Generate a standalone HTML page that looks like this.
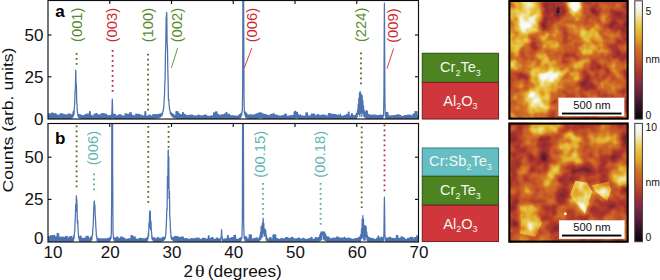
<!DOCTYPE html>
<html><head><meta charset="utf-8"><style>
html,body{margin:0;padding:0;background:#fff;}
body{width:660px;height:280px;overflow:hidden;position:relative;font-family:"Liberation Sans",sans-serif;}
svg{position:absolute;left:0;top:0;}
</style></head><body>
<svg width="660" height="280" viewBox="0 0 660 280" font-family="Liberation Sans, sans-serif">
<defs>
<clipPath id="ca"><rect x="48.0" y="0.5" width="370.5" height="118.5"/></clipPath>
<clipPath id="cb"><rect x="48.0" y="123.5" width="370.5" height="118.5"/></clipPath>
</defs>
<path d="M47.00,118.93 L47.33,113.30 L47.66,118.95 L47.99,113.85 L48.32,118.88 L48.65,113.89 L48.98,118.57 L49.31,113.94 L49.64,118.86 L49.97,113.91 L50.30,118.81 L50.63,113.95 L50.96,118.58 L51.29,113.99 L51.62,118.75 L51.95,113.00 L52.28,118.80 L52.61,113.03 L52.94,118.84 L53.27,113.07 L53.60,118.67 L53.93,114.04 L54.26,118.70 L54.59,114.07 L54.92,118.67 L55.25,113.69 L55.58,118.71 L55.91,113.72 L56.24,118.68 L56.57,114.97 L56.90,118.60 L57.23,115.00 L57.56,118.90 L57.89,115.02 L58.22,118.76 L58.55,115.05 L58.88,118.77 L59.21,115.22 L59.54,118.93 L59.87,115.25 L60.20,119.00 L60.53,113.66 L60.86,118.64 L61.19,113.68 L61.52,118.60 L61.85,114.14 L62.18,118.86 L62.51,114.15 L62.84,118.80 L63.17,114.17 L63.50,118.97 L63.83,114.70 L64.16,118.63 L64.49,114.72 L64.82,118.84 L65.15,114.73 L65.48,118.57 L65.81,115.07 L66.14,118.72 L66.47,115.08 L66.80,118.52 L67.13,115.08 L67.46,118.45 L67.79,114.23 L68.12,118.65 L68.45,114.21 L68.78,118.70 L69.11,114.19 L69.44,118.49 L69.77,114.16 L70.10,118.23 L70.43,114.10 L70.76,118.42 L71.09,114.93 L71.42,118.23 L71.75,114.78 L72.08,117.55 L72.41,114.54 L72.74,117.02 L73.07,112.00 L73.40,115.86 L73.73,110.96 L74.06,114.10 L74.39,107.44 L74.72,103.59 L75.05,90.90 L75.38,89.45 L75.71,70.21 L75.80,71.56 L76.04,84.14 L76.37,84.15 L76.70,101.57 L77.03,104.46 L77.36,112.36 L77.69,112.92 L78.02,116.08 L78.35,114.36 L78.68,117.07 L79.01,114.93 L79.34,117.38 L79.67,114.53 L80.00,118.03 L80.33,114.73 L80.66,118.52 L80.99,115.46 L81.32,118.22 L81.65,115.55 L81.98,118.39 L82.31,115.63 L82.64,118.62 L82.97,115.68 L83.30,118.54 L83.63,115.43 L83.96,118.75 L84.29,115.47 L84.62,118.48 L84.95,115.50 L85.28,118.48 L85.61,114.48 L85.94,118.72 L86.27,114.50 L86.60,118.58 L86.93,114.06 L87.26,118.83 L87.59,114.07 L87.92,118.96 L88.25,114.09 L88.58,118.65 L88.91,114.11 L89.24,118.83 L89.57,111.53 L89.90,118.69 L90.23,111.54 L90.56,118.94 L90.89,115.39 L91.22,118.61 L91.55,115.40 L91.88,118.66 L92.21,115.89 L92.54,118.55 L92.87,115.90 L93.20,118.63 L93.53,115.91 L93.86,118.61 L94.19,114.02 L94.52,118.96 L94.85,114.03 L95.18,119.00 L95.51,114.04 L95.84,118.87 L96.17,113.50 L96.50,118.81 L96.83,113.50 L97.16,119.05 L97.49,114.83 L97.82,118.76 L98.15,114.83 L98.48,118.66 L98.81,114.84 L99.14,118.86 L99.47,114.85 L99.80,118.85 L100.13,114.90 L100.46,118.68 L100.79,114.90 L101.12,118.69 L101.45,113.53 L101.78,118.98 L102.11,113.54 L102.44,118.97 L102.77,113.54 L103.10,119.01 L103.43,113.55 L103.76,118.85 L104.09,113.77 L104.42,118.80 L104.75,113.77 L105.08,118.87 L105.41,114.48 L105.74,118.84 L106.07,114.48 L106.40,118.73 L106.73,114.49 L107.06,118.88 L107.39,115.87 L107.72,118.79 L108.05,115.87 L108.38,118.97 L108.71,115.55 L109.04,118.86 L109.37,115.55 L109.70,118.53 L110.03,115.54 L110.36,118.90 L110.69,115.33 L111.02,118.84 L111.35,115.21 L111.68,117.81 L112.01,109.04 L112.30,99.03 L112.34,100.78 L112.67,111.78 L113.00,118.12 L113.33,114.29 L113.66,118.45 L113.99,114.39 L114.32,118.93 L114.65,114.42 L114.98,118.91 L115.31,114.44 L115.64,118.75 L115.97,115.90 L116.30,118.54 L116.63,115.90 L116.96,118.70 L117.29,115.91 L117.62,118.65 L117.95,115.91 L118.28,118.98 L118.61,114.87 L118.94,118.78 L119.27,114.88 L119.60,118.72 L119.93,114.97 L120.26,118.56 L120.59,114.97 L120.92,118.73 L121.25,114.97 L121.58,118.81 L121.91,116.14 L122.24,118.85 L122.57,116.15 L122.90,118.79 L123.23,116.15 L123.56,118.90 L123.89,115.95 L124.22,118.69 L124.55,115.95 L124.88,118.74 L125.21,113.81 L125.54,118.79 L125.87,113.81 L126.20,118.78 L126.53,113.81 L126.86,118.92 L127.19,114.46 L127.52,118.72 L127.85,114.46 L128.18,118.93 L128.51,114.46 L128.84,119.00 L129.17,114.46 L129.50,118.56 L129.83,112.75 L130.16,118.86 L130.49,112.75 L130.82,118.84 L131.15,112.75 L131.48,119.00 L131.81,115.39 L132.14,118.56 L132.47,115.39 L132.80,118.86 L133.13,115.39 L133.46,118.59 L133.79,116.00 L134.12,118.56 L134.45,116.00 L134.78,118.92 L135.11,116.00 L135.44,118.63 L135.77,114.19 L136.10,118.66 L136.43,114.19 L136.76,118.80 L137.09,114.26 L137.42,118.63 L137.75,114.26 L138.08,118.65 L138.41,114.27 L138.74,118.55 L139.07,114.26 L139.40,118.51 L139.73,114.26 L140.06,118.94 L140.39,115.30 L140.72,118.71 L141.05,115.30 L141.38,118.83 L141.71,115.30 L142.04,118.57 L142.37,115.29 L142.70,118.86 L143.03,116.07 L143.36,118.68 L143.69,116.06 L144.02,118.71 L144.35,116.05 L144.68,118.76 L145.01,111.56 L145.34,118.66 L145.67,111.55 L146.00,118.43 L146.33,116.21 L146.66,118.55 L146.99,116.20 L147.32,118.51 L147.65,116.19 L147.98,118.75 L148.31,116.18 L148.64,118.49 L148.97,115.10 L149.30,118.78 L149.63,115.09 L149.96,118.58 L150.29,115.07 L150.62,118.78 L150.95,116.04 L151.28,118.35 L151.61,116.02 L151.94,118.66 L152.27,115.99 L152.60,118.55 L152.93,114.72 L153.26,118.61 L153.59,114.69 L153.92,118.21 L154.25,114.65 L154.58,118.32 L154.91,114.77 L155.24,118.09 L155.57,114.71 L155.90,118.04 L156.23,114.65 L156.56,117.74 L156.89,114.57 L157.22,117.87 L157.55,114.64 L157.88,117.86 L158.21,114.52 L158.54,117.42 L158.87,114.37 L159.20,117.69 L159.53,114.18 L159.86,117.36 L160.19,114.33 L160.52,116.31 L160.85,113.99 L161.18,116.01 L161.51,113.52 L161.84,115.89 L162.17,112.83 L162.50,114.00 L162.83,111.51 L163.16,111.44 L163.49,108.32 L163.82,107.52 L164.15,100.25 L164.48,96.07 L164.81,83.13 L165.14,77.17 L165.47,53.64 L165.80,43.82 L166.13,17.22 L166.46,22.81 L166.50,12.41 L166.79,13.42 L167.12,42.72 L167.45,47.24 L167.78,67.67 L168.11,81.05 L168.44,100.49 L168.77,99.04 L169.10,105.09 L169.43,107.81 L169.76,110.70 L170.09,111.10 L170.42,113.78 L170.75,112.26 L171.08,114.72 L171.41,112.99 L171.74,115.77 L172.07,113.70 L172.40,116.30 L172.73,114.06 L173.06,117.03 L173.39,114.32 L173.72,117.37 L174.05,115.27 L174.38,117.36 L174.71,115.42 L175.04,117.75 L175.37,115.54 L175.70,117.72 L176.03,111.58 L176.36,118.20 L176.69,111.66 L177.02,118.22 L177.35,111.73 L177.68,118.36 L178.01,111.79 L178.34,118.25 L178.67,113.64 L179.00,118.24 L179.33,113.68 L179.66,118.33 L179.99,114.70 L180.32,118.63 L180.65,114.73 L180.98,118.54 L181.31,114.76 L181.64,118.27 L181.97,114.78 L182.30,118.70 L182.63,112.51 L182.96,118.67 L183.29,112.52 L183.62,118.54 L183.95,114.38 L184.28,118.69 L184.61,114.39 L184.94,118.39 L185.27,114.40 L185.60,118.72 L185.93,115.59 L186.26,118.76 L186.59,115.60 L186.92,118.88 L187.25,115.61 L187.58,118.64 L187.91,115.62 L188.24,118.65 L188.57,115.29 L188.90,118.75 L189.23,115.30 L189.56,118.61 L189.89,115.31 L190.22,118.89 L190.55,115.31 L190.88,118.78 L191.21,115.11 L191.54,118.85 L191.87,115.11 L192.20,118.70 L192.53,115.12 L192.86,118.90 L193.19,115.75 L193.52,118.59 L193.85,115.76 L194.18,118.57 L194.51,115.76 L194.84,118.59 L195.17,115.77 L195.50,118.63 L195.83,116.14 L196.16,118.59 L196.49,116.15 L196.82,118.65 L197.15,116.15 L197.48,118.96 L197.81,115.08 L198.14,118.91 L198.47,115.08 L198.80,118.55 L199.13,115.08 L199.46,118.70 L199.79,115.95 L200.12,119.01 L200.45,115.95 L200.78,118.87 L201.11,115.95 L201.44,118.85 L201.77,115.95 L202.10,118.84 L202.43,115.96 L202.76,118.90 L203.09,115.96 L203.42,118.55 L203.75,115.43 L204.08,118.64 L204.41,115.43 L204.74,118.56 L205.07,115.11 L205.40,118.87 L205.73,115.11 L206.06,118.72 L206.39,115.12 L206.72,118.86 L207.05,116.27 L207.38,118.58 L207.71,116.27 L208.04,118.79 L208.37,116.27 L208.70,118.81 L209.03,116.27 L209.36,119.02 L209.69,116.32 L210.02,118.91 L210.35,116.32 L210.68,118.84 L211.01,115.92 L211.34,119.03 L211.67,115.92 L212.00,118.86 L212.33,115.92 L212.66,119.05 L212.99,115.92 L213.32,118.78 L213.65,112.98 L213.98,118.86 L214.31,112.98 L214.64,118.56 L214.97,112.98 L215.30,118.70 L215.63,111.82 L215.96,118.75 L216.29,111.82 L216.62,118.72 L216.95,111.82 L217.28,118.88 L217.61,114.67 L217.94,119.00 L218.27,114.67 L218.60,118.68 L218.93,114.67 L219.26,118.99 L219.59,115.44 L219.92,119.05 L220.25,115.44 L220.58,118.78 L220.91,115.44 L221.24,118.90 L221.57,114.95 L221.90,118.85 L222.23,114.94 L222.56,118.70 L222.89,114.94 L223.22,118.58 L223.55,114.94 L223.88,118.55 L224.21,114.24 L224.54,118.72 L224.87,114.24 L225.20,118.63 L225.53,114.23 L225.86,118.99 L226.19,112.42 L226.52,118.71 L226.85,112.41 L227.18,118.73 L227.51,114.43 L227.84,118.71 L228.17,114.43 L228.50,118.57 L228.83,114.43 L229.16,118.68 L229.49,114.43 L229.82,118.85 L230.15,115.58 L230.48,118.80 L230.81,115.58 L231.14,118.56 L231.47,115.77 L231.80,118.52 L232.13,115.76 L232.46,118.89 L232.79,115.76 L233.12,118.56 L233.45,115.75 L233.78,118.96 L234.11,116.20 L234.44,118.85 L234.77,116.19 L235.10,118.70 L235.43,116.17 L235.76,118.72 L236.09,116.15 L236.42,118.45 L236.75,116.06 L237.08,118.63 L237.41,116.03 L237.74,118.82 L238.07,115.98 L238.40,118.30 L238.73,115.89 L239.06,118.40 L239.39,114.56 L239.72,117.91 L240.05,114.27 L240.38,117.88 L240.71,113.71 L241.04,116.78 L241.37,112.77 L241.70,115.23 L242.03,110.87 L242.36,110.63 L242.69,85.30 L243.02,-62.61 L243.30,-220.85 L243.35,-219.59 L243.68,8.20 L244.01,98.05 L244.34,112.99 L244.67,111.89 L245.00,115.54 L245.33,111.88 L245.66,117.22 L245.99,112.78 L246.32,117.45 L246.65,113.29 L246.98,117.96 L247.31,114.88 L247.64,118.57 L247.97,115.01 L248.30,118.47 L248.63,115.09 L248.96,118.56 L249.29,115.14 L249.62,118.61 L249.95,114.77 L250.28,118.90 L250.61,114.79 L250.94,118.61 L251.27,114.80 L251.60,118.97 L251.93,115.10 L252.26,118.71 L252.59,115.10 L252.92,118.49 L253.25,115.10 L253.58,118.55 L253.91,115.10 L254.24,118.99 L254.57,114.99 L254.90,118.88 L255.23,114.96 L255.56,118.86 L255.89,114.07 L256.22,118.66 L256.55,113.91 L256.88,118.76 L257.21,113.57 L257.54,118.69 L257.87,114.33 L258.20,118.14 L258.53,113.47 L258.86,117.01 L259.19,112.69 L259.52,117.95 L259.85,113.11 L260.18,117.59 L260.51,113.65 L260.84,117.01 L261.17,112.61 L261.50,117.31 L261.83,113.38 L262.16,118.23 L262.49,113.88 L262.82,118.23 L263.15,114.13 L263.48,118.55 L263.81,114.43 L264.14,118.81 L264.47,114.48 L264.80,118.96 L265.13,114.50 L265.46,118.84 L265.79,114.52 L266.12,119.04 L266.45,115.09 L266.78,118.98 L267.11,115.10 L267.44,118.73 L267.77,115.10 L268.10,118.81 L268.43,115.63 L268.76,118.68 L269.09,115.64 L269.42,118.82 L269.75,115.64 L270.08,119.04 L270.41,114.49 L270.74,118.79 L271.07,114.49 L271.40,118.87 L271.73,114.50 L272.06,118.69 L272.39,114.50 L272.72,118.59 L273.05,113.99 L273.38,118.90 L273.71,113.99 L274.04,118.76 L274.37,113.99 L274.70,118.82 L275.03,115.13 L275.36,118.94 L275.69,115.13 L276.02,118.64 L276.35,115.13 L276.68,119.04 L277.01,115.13 L277.34,118.92 L277.67,115.83 L278.00,119.05 L278.33,115.83 L278.66,118.81 L278.99,115.83 L279.32,118.60 L279.65,116.09 L279.98,118.69 L280.31,116.09 L280.64,118.63 L280.97,116.09 L281.30,118.70 L281.63,116.09 L281.96,119.02 L282.29,115.61 L282.62,119.01 L282.95,115.61 L283.28,119.02 L283.61,115.61 L283.94,118.81 L284.27,115.61 L284.60,118.81 L284.93,114.19 L285.26,118.85 L285.59,114.19 L285.92,118.74 L286.25,114.19 L286.58,118.89 L286.91,116.35 L287.24,119.00 L287.57,116.35 L287.90,118.99 L288.23,116.35 L288.56,118.88 L288.89,115.78 L289.22,118.78 L289.55,115.78 L289.88,118.71 L290.21,115.77 L290.54,118.79 L290.87,115.77 L291.20,118.89 L291.53,115.62 L291.86,118.78 L292.19,115.61 L292.52,118.80 L292.85,115.58 L293.18,118.81 L293.51,115.53 L293.84,118.73 L294.17,112.05 L294.50,118.21 L294.83,111.72 L295.16,117.72 L295.49,111.07 L295.82,117.94 L296.15,112.88 L296.48,117.48 L296.81,112.25 L297.14,116.76 L297.47,112.45 L297.80,118.16 L298.13,114.46 L298.46,117.02 L298.79,115.27 L299.12,118.49 L299.45,115.78 L299.78,118.72 L300.11,114.85 L300.44,118.51 L300.77,114.94 L301.10,118.68 L301.43,116.05 L301.76,118.69 L302.09,116.06 L302.42,118.90 L302.75,116.08 L303.08,118.88 L303.41,116.18 L303.74,118.79 L304.07,116.19 L304.40,119.03 L304.73,116.19 L305.06,118.60 L305.39,116.19 L305.72,118.57 L306.05,112.89 L306.38,118.73 L306.71,112.89 L307.04,118.59 L307.37,112.90 L307.70,118.83 L308.03,115.91 L308.36,118.81 L308.69,115.91 L309.02,118.72 L309.35,115.92 L309.68,118.83 L310.01,116.24 L310.34,119.02 L310.67,116.24 L311.00,118.62 L311.33,114.22 L311.66,118.66 L311.99,114.22 L312.32,118.79 L312.65,114.22 L312.98,118.62 L313.31,114.22 L313.64,119.08 L313.97,114.20 L314.30,119.08 L314.63,114.20 L314.96,118.83 L315.29,115.78 L315.62,119.09 L315.95,115.78 L316.28,118.68 L316.61,115.78 L316.94,119.08 L317.27,114.53 L317.60,118.82 L317.93,114.53 L318.26,118.97 L318.59,114.53 L318.92,118.95 L319.25,115.61 L319.58,118.96 L319.91,115.61 L320.24,118.96 L320.57,115.61 L320.90,118.93 L321.23,115.61 L321.56,118.69 L321.89,115.11 L322.22,118.97 L322.55,115.11 L322.88,118.91 L323.21,115.11 L323.54,118.90 L323.87,115.11 L324.20,118.92 L324.53,115.18 L324.86,118.78 L325.19,115.18 L325.52,119.09 L325.85,115.93 L326.18,118.61 L326.51,115.93 L326.84,118.61 L327.17,115.92 L327.50,119.02 L327.83,115.92 L328.16,119.01 L328.49,113.72 L328.82,118.61 L329.15,113.72 L329.48,118.93 L329.81,113.72 L330.14,118.90 L330.47,113.72 L330.80,119.01 L331.13,114.48 L331.46,118.70 L331.79,114.48 L332.12,118.95 L332.45,114.48 L332.78,118.63 L333.11,114.48 L333.44,118.79 L333.77,114.62 L334.10,118.86 L334.43,114.62 L334.76,118.98 L335.09,114.61 L335.42,118.66 L335.75,114.61 L336.08,118.97 L336.41,115.19 L336.74,118.93 L337.07,115.19 L337.40,118.85 L337.73,115.19 L338.06,119.04 L338.39,115.18 L338.72,118.83 L339.05,115.34 L339.38,118.62 L339.71,115.34 L340.04,118.84 L340.37,114.01 L340.70,118.58 L341.03,116.19 L341.36,118.78 L341.69,116.18 L342.02,118.67 L342.35,116.18 L342.68,118.55 L343.01,116.17 L343.34,118.90 L343.67,116.16 L344.00,118.83 L344.33,115.57 L344.66,118.92 L344.99,115.57 L345.32,119.00 L345.65,115.56 L345.98,118.57 L346.31,114.56 L346.64,118.56 L346.97,114.55 L347.30,118.94 L347.63,114.54 L347.96,118.74 L348.29,112.16 L348.62,118.87 L348.95,112.15 L349.28,118.88 L349.61,116.00 L349.94,118.56 L350.27,115.98 L350.60,118.69 L350.93,115.94 L351.26,118.44 L351.59,113.61 L351.92,119.04 L352.25,113.56 L352.58,118.71 L352.91,115.87 L353.24,118.91 L353.57,115.79 L353.90,118.61 L354.23,115.68 L354.56,118.52 L354.89,115.52 L355.22,117.87 L355.55,115.24 L355.88,118.40 L356.21,114.13 L356.54,118.53 L356.87,112.96 L357.20,116.78 L357.53,110.11 L357.86,113.66 L358.19,104.41 L358.52,114.30 L358.85,98.02 L359.18,114.05 L359.51,92.92 L359.84,116.59 L360.17,91.49 L360.50,113.12 L360.83,93.53 L361.16,108.45 L361.49,94.78 L361.82,116.39 L362.15,95.61 L362.48,109.62 L362.81,100.19 L363.14,113.00 L363.47,105.78 L363.80,115.97 L364.13,109.94 L364.46,117.00 L364.79,111.93 L365.12,116.89 L365.45,113.03 L365.78,118.26 L366.11,110.74 L366.44,118.18 L366.77,111.02 L367.10,118.16 L367.43,111.17 L367.76,118.74 L368.09,114.65 L368.42,118.42 L368.75,114.73 L369.08,118.69 L369.41,114.79 L369.74,118.61 L370.07,114.83 L370.40,118.54 L370.73,115.26 L371.06,118.67 L371.39,115.29 L371.72,118.68 L372.05,115.32 L372.38,118.97 L372.71,115.03 L373.04,118.82 L373.37,115.05 L373.70,118.45 L374.03,115.06 L374.36,118.87 L374.69,115.16 L375.02,118.88 L375.35,115.17 L375.68,118.81 L376.01,115.18 L376.34,118.69 L376.67,115.70 L377.00,118.79 L377.33,115.70 L377.66,118.85 L377.99,115.70 L378.32,118.56 L378.65,115.70 L378.98,118.53 L379.31,115.26 L379.64,118.62 L379.97,115.25 L380.30,118.65 L380.63,115.23 L380.96,118.80 L381.29,115.19 L381.62,118.67 L381.95,115.55 L382.28,118.24 L382.61,115.38 L382.94,117.93 L383.27,114.85 L383.60,115.71 L383.93,94.22 L384.26,24.70 L384.40,3.16 L384.59,29.70 L384.92,102.10 L385.25,112.62 L385.58,117.45 L385.91,113.85 L386.24,118.08 L386.57,112.36 L386.90,118.65 L387.23,112.46 L387.56,118.80 L387.89,112.52 L388.22,118.81 L388.55,115.97 L388.88,118.66 L389.21,115.99 L389.54,118.74 L389.87,116.00 L390.20,119.00 L390.53,115.86 L390.86,118.63 L391.19,115.86 L391.52,118.77 L391.85,115.87 L392.18,118.98 L392.51,115.87 L392.84,118.94 L393.17,115.58 L393.50,118.65 L393.83,115.59 L394.16,118.72 L394.49,115.59 L394.82,118.97 L395.15,115.59 L395.48,118.63 L395.81,115.43 L396.14,118.85 L396.47,115.43 L396.80,118.58 L397.13,114.92 L397.46,119.01 L397.79,114.93 L398.12,118.86 L398.45,114.93 L398.78,119.00 L399.11,114.93 L399.44,118.63 L399.77,115.29 L400.10,118.97 L400.43,115.29 L400.76,119.06 L401.09,116.33 L401.42,119.04 L401.75,116.33 L402.08,118.79 L402.41,116.26 L402.74,119.07 L403.07,116.26 L403.40,118.75 L403.73,116.26 L404.06,118.94 L404.39,115.58 L404.72,118.96 L405.05,115.58 L405.38,118.92 L405.71,115.56 L406.04,118.66 L406.37,115.56 L406.70,118.64 L407.03,115.56 L407.36,118.74 L407.69,115.19 L408.02,118.84 L408.35,115.19 L408.68,118.70 L409.01,115.19 L409.34,118.93 L409.67,115.19 L410.00,118.95 L410.33,115.27 L410.66,118.75 L410.99,115.27 L411.32,118.89 L411.65,116.17 L411.98,118.64 L412.31,116.17 L412.64,118.60 L412.97,114.25 L413.30,118.66 L413.63,114.25 L413.96,118.59 L414.29,114.25 L414.62,118.77 L414.95,111.66 L415.28,118.88 L415.61,111.66 L415.94,119.01 L416.27,111.66 L416.60,118.99 L416.93,111.66 L417.26,118.80 L417.59,115.52 L417.92,118.76 L418.25,115.52 L418.58,118.93 L418.91,114.09 L419.24,118.77" fill="none" stroke="#4c72b0" stroke-width="1.25" stroke-linejoin="round" clip-path="url(#ca)"/>
<path d="M47.00,241.98 L47.33,235.95 L47.66,241.99 L47.99,236.01 L48.32,241.62 L48.65,236.07 L48.98,241.72 L49.31,236.83 L49.64,242.08 L49.97,236.89 L50.30,241.77 L50.63,235.70 L50.96,241.69 L51.29,235.75 L51.62,242.04 L51.95,235.80 L52.28,241.65 L52.61,235.58 L52.94,241.67 L53.27,235.63 L53.60,242.08 L53.93,235.68 L54.26,242.09 L54.59,235.46 L54.92,242.06 L55.25,236.80 L55.58,241.74 L55.91,236.84 L56.24,241.84 L56.57,236.88 L56.90,241.73 L57.23,233.50 L57.56,241.92 L57.89,233.54 L58.22,241.61 L58.55,233.58 L58.88,241.78 L59.21,237.20 L59.54,242.02 L59.87,237.24 L60.20,242.01 L60.53,237.27 L60.86,241.92 L61.19,237.09 L61.52,241.61 L61.85,237.12 L62.18,241.68 L62.51,237.15 L62.84,241.93 L63.17,237.18 L63.50,241.66 L63.83,237.36 L64.16,241.57 L64.49,237.39 L64.82,242.03 L65.15,237.41 L65.48,241.91 L65.81,236.27 L66.14,241.75 L66.47,236.29 L66.80,241.59 L67.13,236.31 L67.46,241.72 L67.79,237.81 L68.12,241.51 L68.45,237.82 L68.78,241.55 L69.11,237.83 L69.44,241.48 L69.77,236.64 L70.10,241.45 L70.43,236.64 L70.76,241.80 L71.09,236.62 L71.42,241.66 L71.75,236.59 L72.08,241.54 L72.41,238.09 L72.74,241.28 L73.07,237.88 L73.40,240.59 L73.73,235.63 L74.06,238.45 L74.39,232.74 L74.72,232.09 L75.05,221.59 L75.38,217.00 L75.71,204.45 L76.04,211.22 L76.37,195.82 L76.40,196.12 L76.70,199.54 L77.03,204.07 L77.36,222.97 L77.69,220.20 L78.02,228.84 L78.35,232.73 L78.68,237.84 L79.01,236.51 L79.34,240.56 L79.67,237.48 L80.00,241.48 L80.33,236.10 L80.66,241.55 L80.99,236.21 L81.32,241.72 L81.65,238.40 L81.98,241.27 L82.31,238.45 L82.64,241.55 L82.97,238.49 L83.30,241.84 L83.63,238.52 L83.96,241.51 L84.29,238.01 L84.62,241.75 L84.95,238.03 L85.28,241.50 L85.61,238.04 L85.94,241.93 L86.27,236.28 L86.60,241.75 L86.93,236.28 L87.26,241.79 L87.59,236.28 L87.92,241.66 L88.25,236.27 L88.58,241.51 L88.91,238.90 L89.24,241.27 L89.57,238.87 L89.90,241.62 L90.23,237.37 L90.56,241.35 L90.89,237.23 L91.22,240.77 L91.55,236.72 L91.88,239.44 L92.21,234.81 L92.54,235.48 L92.87,227.44 L93.20,225.89 L93.53,213.45 L93.86,207.94 L94.19,201.20 L94.40,201.02 L94.52,205.66 L94.85,204.52 L95.18,215.57 L95.51,219.04 L95.84,226.85 L96.17,231.52 L96.50,236.90 L96.83,236.80 L97.16,240.90 L97.49,238.03 L97.82,240.95 L98.15,238.59 L98.48,241.49 L98.81,238.70 L99.14,241.66 L99.47,238.77 L99.80,241.75 L100.13,238.81 L100.46,241.57 L100.79,238.84 L101.12,241.74 L101.45,238.87 L101.78,241.87 L102.11,238.86 L102.44,241.57 L102.77,238.87 L103.10,241.79 L103.43,238.88 L103.76,241.78 L104.09,238.89 L104.42,241.41 L104.75,238.96 L105.08,241.45 L105.41,238.96 L105.74,241.67 L106.07,238.82 L106.40,241.81 L106.73,238.81 L107.06,241.73 L107.39,238.78 L107.72,241.29 L108.05,238.45 L108.38,241.48 L108.71,238.37 L109.04,241.30 L109.37,238.22 L109.70,241.01 L110.03,237.36 L110.36,239.99 L110.69,236.59 L111.02,238.14 L111.35,232.57 L111.68,193.34 L112.01,-17.68 L112.20,-96.22 L112.34,-39.16 L112.67,170.19 L113.00,231.66 L113.33,236.08 L113.66,239.28 L113.99,237.65 L114.32,240.72 L114.65,237.82 L114.98,241.18 L115.31,238.05 L115.64,241.30 L115.97,238.17 L116.30,241.31 L116.63,237.12 L116.96,241.30 L117.29,237.17 L117.62,241.55 L117.95,237.20 L118.28,241.73 L118.61,238.49 L118.94,241.52 L119.27,238.51 L119.60,241.85 L119.93,238.53 L120.26,241.65 L120.59,237.05 L120.92,241.93 L121.25,237.06 L121.58,242.00 L121.91,237.07 L122.24,241.59 L122.57,237.07 L122.90,241.86 L123.23,238.14 L123.56,241.59 L123.89,238.14 L124.22,241.93 L124.55,238.15 L124.88,241.86 L125.21,239.30 L125.54,241.95 L125.87,239.31 L126.20,242.03 L126.53,239.07 L126.86,241.88 L127.19,239.08 L127.52,241.73 L127.85,239.08 L128.18,241.91 L128.51,238.76 L128.84,241.95 L129.17,238.76 L129.50,241.95 L129.83,238.76 L130.16,241.72 L130.49,238.76 L130.82,241.66 L131.15,235.60 L131.48,241.69 L131.81,235.60 L132.14,241.76 L132.47,235.60 L132.80,241.57 L133.13,236.88 L133.46,241.73 L133.79,236.88 L134.12,241.69 L134.45,236.88 L134.78,241.80 L135.11,236.88 L135.44,241.71 L135.77,239.19 L136.10,241.80 L136.43,239.18 L136.76,241.75 L137.09,239.32 L137.42,241.88 L137.75,239.32 L138.08,241.88 L138.41,239.31 L138.74,241.55 L139.07,238.39 L139.40,241.77 L139.73,238.38 L140.06,241.91 L140.39,238.38 L140.72,241.95 L141.05,238.37 L141.38,241.96 L141.71,238.61 L142.04,241.57 L142.37,238.59 L142.70,241.50 L143.03,238.57 L143.36,241.55 L143.69,239.22 L144.02,241.71 L144.35,239.19 L144.68,241.59 L145.01,238.52 L145.34,241.49 L145.67,238.46 L146.00,241.39 L146.33,238.34 L146.66,241.31 L146.99,238.02 L147.32,240.63 L147.65,236.76 L147.98,238.79 L148.31,233.04 L148.64,236.14 L148.97,222.81 L149.30,227.72 L149.63,211.75 L149.96,211.16 L150.29,210.89 L150.62,229.53 L150.95,221.17 L151.28,230.12 L151.61,231.96 L151.94,238.75 L152.27,236.88 L152.60,239.72 L152.93,238.15 L153.26,240.82 L153.59,237.79 L153.92,241.49 L154.25,237.90 L154.58,241.60 L154.91,237.96 L155.24,241.61 L155.57,238.84 L155.90,241.55 L156.23,238.86 L156.56,241.51 L156.89,238.86 L157.22,241.68 L157.55,237.34 L157.88,241.38 L158.21,237.33 L158.54,241.28 L158.87,238.45 L159.20,241.51 L159.53,238.42 L159.86,241.40 L160.19,238.38 L160.52,241.11 L160.85,238.90 L161.18,241.14 L161.51,238.82 L161.84,241.32 L162.17,237.60 L162.50,240.69 L162.83,237.45 L163.16,240.39 L163.49,237.25 L163.82,240.24 L164.15,237.86 L164.48,239.62 L164.81,237.30 L165.14,238.33 L165.47,235.90 L165.80,234.65 L166.13,228.36 L166.46,221.73 L166.79,208.97 L167.12,209.88 L167.45,176.26 L167.78,188.84 L168.11,151.66 L168.30,149.89 L168.44,181.74 L168.77,156.91 L169.10,198.49 L169.43,191.11 L169.76,216.27 L170.09,219.30 L170.42,229.51 L170.75,232.36 L171.08,237.77 L171.41,236.90 L171.74,239.36 L172.07,237.85 L172.40,239.62 L172.73,237.38 L173.06,240.38 L173.39,237.64 L173.72,240.87 L174.05,237.83 L174.38,240.97 L174.71,236.37 L175.04,240.89 L175.37,236.47 L175.70,241.42 L176.03,236.55 L176.36,241.09 L176.69,236.54 L177.02,241.25 L177.35,236.59 L177.68,241.54 L178.01,236.63 L178.34,241.50 L178.67,237.63 L179.00,241.58 L179.33,237.65 L179.66,241.51 L179.99,237.67 L180.32,241.88 L180.65,237.69 L180.98,241.78 L181.31,236.99 L181.64,241.84 L181.97,237.00 L182.30,241.51 L182.63,237.01 L182.96,241.90 L183.29,237.02 L183.62,241.79 L183.95,238.59 L184.28,241.78 L184.61,238.60 L184.94,241.85 L185.27,238.56 L185.60,241.84 L185.93,238.57 L186.26,241.61 L186.59,238.57 L186.92,241.84 L187.25,238.58 L187.58,241.73 L187.91,239.29 L188.24,241.86 L188.57,239.30 L188.90,241.98 L189.23,239.30 L189.56,241.80 L189.89,239.20 L190.22,241.53 L190.55,239.20 L190.88,241.70 L191.21,238.57 L191.54,241.94 L191.87,238.58 L192.20,241.74 L192.53,238.58 L192.86,241.89 L193.19,238.86 L193.52,241.66 L193.85,238.86 L194.18,241.80 L194.51,238.86 L194.84,241.94 L195.17,238.40 L195.50,241.84 L195.83,238.40 L196.16,241.70 L196.49,238.40 L196.82,241.87 L197.15,238.19 L197.48,241.71 L197.81,238.19 L198.14,241.74 L198.47,238.19 L198.80,241.93 L199.13,238.19 L199.46,241.76 L199.79,239.34 L200.12,242.00 L200.45,239.34 L200.78,242.02 L201.11,239.34 L201.44,241.99 L201.77,239.34 L202.10,241.98 L202.43,238.28 L202.76,241.65 L203.09,238.28 L203.42,241.82 L203.75,238.28 L204.08,242.00 L204.41,238.44 L204.74,241.63 L205.07,238.44 L205.40,241.83 L205.73,239.23 L206.06,241.93 L206.39,239.23 L206.72,241.81 L207.05,239.23 L207.38,241.81 L207.71,239.23 L208.04,241.58 L208.37,235.81 L208.70,241.99 L209.03,235.81 L209.36,241.72 L209.69,238.65 L210.02,241.86 L210.35,238.65 L210.68,241.90 L211.01,238.65 L211.34,242.06 L211.67,237.54 L212.00,241.73 L212.33,237.54 L212.66,241.77 L212.99,237.54 L213.32,241.86 L213.65,239.28 L213.98,241.88 L214.31,239.28 L214.64,241.76 L214.97,239.28 L215.30,241.68 L215.63,239.28 L215.96,241.94 L216.29,238.08 L216.62,241.76 L216.95,238.07 L217.28,241.64 L217.61,238.07 L217.94,241.91 L218.27,238.89 L218.60,241.81 L218.93,238.88 L219.26,241.78 L219.59,238.86 L219.92,241.65 L220.25,238.81 L220.58,241.63 L220.91,237.39 L221.24,237.68 L221.57,229.66 L221.60,229.74 L221.90,236.72 L222.23,237.12 L222.56,241.36 L222.89,239.36 L223.22,241.95 L223.55,239.41 L223.88,241.67 L224.21,239.43 L224.54,241.76 L224.87,238.95 L225.20,241.85 L225.53,238.95 L225.86,241.65 L226.19,238.96 L226.52,241.69 L226.85,238.96 L227.18,241.92 L227.51,235.67 L227.84,241.68 L228.17,235.67 L228.50,241.84 L228.83,238.46 L229.16,242.03 L229.49,238.46 L229.82,241.64 L230.15,238.46 L230.48,242.03 L230.81,238.46 L231.14,241.89 L231.47,237.67 L231.80,242.01 L232.13,237.67 L232.46,241.58 L232.79,237.66 L233.12,241.76 L233.45,237.66 L233.78,241.54 L234.11,235.31 L234.44,241.52 L234.77,235.30 L235.10,241.58 L235.43,235.29 L235.76,241.67 L236.09,239.30 L236.42,241.49 L236.75,239.28 L237.08,241.74 L237.41,239.26 L237.74,241.76 L238.07,239.19 L238.40,241.38 L238.73,239.14 L239.06,241.66 L239.39,238.34 L239.72,241.26 L240.05,238.20 L240.38,240.90 L240.71,237.93 L241.04,240.42 L241.37,237.42 L241.70,238.61 L242.03,235.09 L242.36,218.86 L242.69,77.77 L243.00,-96.03 L243.02,-83.81 L243.35,106.96 L243.68,223.98 L244.01,234.72 L244.34,238.59 L244.67,236.80 L245.00,240.40 L245.33,236.70 L245.66,240.75 L245.99,236.96 L246.32,241.33 L246.65,237.09 L246.98,241.70 L247.31,238.90 L247.64,241.35 L247.97,238.95 L248.30,241.85 L248.63,238.98 L248.96,241.56 L249.29,234.91 L249.62,241.50 L249.95,234.92 L250.28,241.48 L250.61,234.93 L250.94,241.66 L251.27,234.94 L251.60,241.86 L251.93,239.25 L252.26,241.92 L252.59,239.25 L252.92,241.67 L253.25,239.25 L253.58,241.86 L253.91,238.46 L254.24,241.68 L254.57,238.45 L254.90,241.96 L255.23,238.44 L255.56,241.43 L255.89,238.43 L256.22,241.74 L256.55,237.94 L256.88,241.57 L257.21,237.91 L257.54,241.88 L257.87,239.21 L258.20,241.27 L258.53,239.09 L258.86,241.37 L259.19,237.71 L259.52,240.75 L259.85,236.22 L260.18,239.46 L260.51,232.33 L260.84,239.32 L261.17,226.58 L261.50,231.61 L261.83,225.84 L262.16,237.22 L262.49,222.79 L262.82,233.15 L263.15,218.31 L263.48,226.35 L263.81,223.41 L264.14,236.13 L264.47,229.17 L264.80,235.69 L265.13,229.15 L265.46,234.96 L265.79,230.60 L266.12,239.98 L266.45,235.31 L266.78,240.27 L267.11,237.91 L267.44,241.50 L267.77,238.88 L268.10,241.68 L268.43,239.17 L268.76,241.40 L269.09,239.26 L269.42,241.99 L269.75,237.51 L270.08,241.77 L270.41,237.54 L270.74,241.92 L271.07,237.56 L271.40,241.78 L271.73,239.27 L272.06,241.75 L272.39,239.28 L272.72,241.83 L273.05,234.93 L273.38,241.79 L273.71,234.94 L274.04,241.62 L274.37,234.95 L274.70,242.01 L275.03,234.95 L275.36,241.59 L275.69,234.96 L276.02,242.01 L276.35,238.66 L276.68,241.71 L277.01,238.67 L277.34,241.73 L277.67,238.67 L278.00,241.62 L278.33,239.33 L278.66,242.03 L278.99,239.33 L279.32,242.03 L279.65,239.33 L279.98,241.77 L280.31,239.33 L280.64,242.05 L280.97,238.66 L281.30,241.81 L281.63,238.66 L281.96,241.66 L282.29,238.66 L282.62,241.57 L282.95,238.66 L283.28,242.00 L283.61,238.92 L283.94,242.01 L284.27,238.92 L284.60,241.66 L284.93,238.92 L285.26,241.88 L285.59,237.54 L285.92,242.02 L286.25,237.54 L286.58,241.99 L286.91,237.54 L287.24,242.08 L287.57,237.54 L287.90,241.84 L288.23,238.29 L288.56,242.07 L288.89,238.29 L289.22,241.63 L289.55,238.29 L289.88,242.09 L290.21,238.35 L290.54,241.67 L290.87,238.35 L291.20,242.03 L291.53,237.28 L291.86,241.66 L292.19,237.28 L292.52,242.08 L292.85,237.28 L293.18,241.70 L293.51,238.91 L293.84,241.81 L294.17,238.91 L294.50,241.65 L294.83,238.91 L295.16,242.03 L295.49,238.91 L295.82,241.76 L296.15,238.76 L296.48,241.70 L296.81,238.76 L297.14,241.95 L297.47,238.76 L297.80,241.75 L298.13,238.14 L298.46,241.96 L298.79,238.14 L299.12,241.66 L299.45,238.14 L299.78,242.05 L300.11,239.15 L300.44,241.59 L300.77,239.15 L301.10,242.00 L301.43,239.15 L301.76,241.92 L302.09,239.15 L302.42,241.80 L302.75,238.46 L303.08,241.84 L303.41,238.46 L303.74,241.84 L304.07,238.46 L304.40,242.07 L304.73,239.36 L305.06,242.06 L305.39,239.36 L305.72,241.96 L306.05,239.35 L306.38,241.64 L306.71,239.35 L307.04,241.80 L307.37,239.23 L307.70,241.99 L308.03,239.23 L308.36,241.78 L308.69,239.23 L309.02,241.91 L309.35,238.37 L309.68,241.89 L310.01,238.37 L310.34,241.65 L310.67,238.36 L311.00,241.85 L311.33,237.47 L311.66,241.87 L311.99,237.46 L312.32,241.74 L312.65,239.27 L312.98,241.64 L313.31,239.27 L313.64,241.64 L313.97,239.26 L314.30,241.89 L314.63,239.25 L314.96,241.66 L315.29,237.75 L315.62,241.64 L315.95,237.73 L316.28,241.48 L316.61,237.70 L316.94,241.56 L317.27,238.18 L317.60,241.56 L317.93,238.03 L318.26,241.51 L318.59,237.67 L318.92,241.51 L319.25,236.93 L319.58,240.56 L319.91,234.63 L320.24,240.48 L320.57,233.14 L320.90,239.87 L321.23,231.93 L321.56,239.64 L321.89,231.92 L322.22,234.32 L322.55,232.09 L322.88,234.78 L323.21,232.38 L323.54,239.24 L323.87,231.75 L324.20,237.11 L324.53,232.09 L324.86,240.43 L325.19,233.69 L325.52,239.78 L325.85,235.17 L326.18,240.59 L326.51,236.53 L326.84,241.09 L327.17,237.45 L327.50,241.45 L327.83,236.99 L328.16,241.92 L328.49,237.20 L328.82,241.76 L329.15,237.28 L329.48,241.92 L329.81,238.83 L330.14,241.84 L330.47,238.85 L330.80,241.93 L331.13,238.87 L331.46,241.72 L331.79,238.38 L332.12,242.03 L332.45,238.39 L332.78,241.62 L333.11,238.40 L333.44,241.98 L333.77,238.08 L334.10,241.69 L334.43,238.09 L334.76,241.88 L335.09,238.34 L335.42,241.93 L335.75,238.35 L336.08,241.82 L336.41,237.10 L336.74,241.94 L337.07,237.10 L337.40,241.59 L337.73,237.11 L338.06,242.03 L338.39,237.11 L338.72,241.89 L339.05,238.07 L339.38,241.68 L339.71,238.08 L340.04,241.71 L340.37,238.08 L340.70,241.62 L341.03,238.14 L341.36,241.94 L341.69,238.14 L342.02,241.95 L342.35,238.14 L342.68,242.05 L343.01,238.14 L343.34,241.62 L343.67,238.14 L344.00,241.65 L344.33,237.32 L344.66,241.97 L344.99,237.31 L345.32,241.63 L345.65,238.57 L345.98,241.81 L346.31,238.57 L346.64,241.84 L346.97,238.57 L347.30,241.63 L347.63,238.10 L347.96,241.75 L348.29,238.09 L348.62,241.76 L348.95,238.09 L349.28,241.99 L349.61,238.61 L349.94,241.78 L350.27,238.61 L350.60,241.69 L350.93,238.61 L351.26,242.02 L351.59,239.28 L351.92,241.60 L352.25,239.27 L352.58,241.59 L352.91,239.27 L353.24,241.79 L353.57,239.03 L353.90,242.03 L354.23,239.02 L354.56,241.85 L354.89,238.93 L355.22,241.84 L355.55,238.92 L355.88,241.68 L356.21,238.42 L356.54,241.56 L356.87,238.39 L357.20,241.71 L357.53,238.35 L357.86,241.93 L358.19,238.29 L358.52,241.81 L358.85,237.39 L359.18,241.79 L359.51,237.15 L359.84,241.12 L360.17,236.38 L360.50,241.25 L360.83,234.27 L361.16,238.82 L361.49,228.71 L361.82,238.49 L362.15,219.45 L362.48,233.00 L362.81,215.52 L363.14,237.58 L363.47,218.86 L363.80,240.16 L364.13,225.24 L364.46,238.51 L364.79,226.96 L365.12,240.06 L365.45,225.79 L365.78,236.04 L366.11,226.62 L366.44,236.80 L366.77,231.95 L367.10,240.19 L367.43,235.34 L367.76,241.15 L368.09,236.98 L368.42,241.63 L368.75,237.59 L369.08,241.38 L369.41,237.78 L369.74,241.88 L370.07,237.85 L370.40,241.44 L370.73,238.26 L371.06,241.72 L371.39,238.29 L371.72,241.90 L372.05,238.62 L372.38,241.61 L372.71,238.64 L373.04,242.04 L373.37,238.65 L373.70,241.96 L374.03,239.41 L374.36,241.75 L374.69,239.42 L375.02,241.54 L375.35,239.43 L375.68,241.67 L376.01,239.43 L376.34,242.04 L376.67,238.31 L377.00,241.66 L377.33,238.32 L377.66,241.87 L377.99,236.12 L378.32,241.84 L378.65,236.12 L378.98,241.93 L379.31,238.21 L379.64,241.79 L379.97,238.20 L380.30,241.63 L380.63,238.20 L380.96,241.56 L381.29,237.13 L381.62,241.51 L381.95,237.10 L382.28,241.90 L382.61,238.27 L382.94,241.30 L383.27,238.06 L383.60,240.73 L383.93,232.19 L384.26,205.26 L384.40,197.17 L384.59,208.02 L384.92,235.13 L385.25,237.94 L385.58,241.12 L385.91,238.41 L386.24,241.53 L386.57,238.09 L386.90,241.56 L387.23,238.13 L387.56,241.87 L387.89,238.15 L388.22,241.73 L388.55,238.16 L388.88,241.86 L389.21,237.34 L389.54,242.05 L389.87,237.35 L390.20,241.61 L390.53,237.35 L390.86,242.08 L391.19,238.44 L391.52,241.65 L391.85,238.44 L392.18,241.98 L392.51,238.45 L392.84,242.05 L393.17,238.45 L393.50,241.85 L393.83,238.74 L394.16,241.80 L394.49,238.74 L394.82,241.92 L395.15,238.74 L395.48,241.79 L395.81,238.74 L396.14,241.70 L396.47,235.55 L396.80,241.67 L397.13,235.55 L397.46,241.84 L397.79,235.55 L398.12,242.03 L398.45,238.27 L398.78,241.96 L399.11,238.28 L399.44,241.81 L399.77,238.28 L400.10,241.82 L400.43,238.28 L400.76,241.86 L401.09,236.98 L401.42,242.08 L401.75,236.98 L402.08,242.05 L402.41,236.98 L402.74,241.89 L403.07,237.84 L403.40,242.04 L403.73,237.84 L404.06,242.02 L404.39,237.84 L404.72,241.97 L405.05,239.40 L405.38,241.88 L405.71,239.40 L406.04,241.87 L406.37,239.40 L406.70,242.05 L407.03,239.40 L407.36,241.95 L407.69,238.42 L408.02,241.71 L408.35,238.42 L408.68,241.73 L409.01,238.42 L409.34,241.61 L409.67,238.42 L410.00,241.67 L410.33,237.35 L410.66,242.00 L410.99,237.35 L411.32,241.91 L411.65,237.35 L411.98,241.95 L412.31,237.35 L412.64,241.76 L412.97,238.91 L413.30,241.68 L413.63,238.91 L413.96,241.70 L414.29,237.67 L414.62,241.67 L414.95,237.67 L415.28,241.91 L415.61,237.67 L415.94,241.68 L416.27,237.67 L416.60,242.08 L416.93,235.68 L417.26,241.60 L417.59,235.68 L417.92,241.72 L418.25,235.68 L418.58,241.79 L418.91,239.30 L419.24,241.89" fill="none" stroke="#4c72b0" stroke-width="1.25" stroke-linejoin="round" clip-path="url(#cb)"/>
<g fill="none" stroke="#111" stroke-width="1.15">
<rect x="48.0" y="0.5" width="370.5" height="118.5"/>
<rect x="48.0" y="123.5" width="370.5" height="118.5"/>
<line x1="48.0" y1="76.80" x2="51.5" y2="76.80"/>
<line x1="415.0" y1="76.80" x2="418.5" y2="76.80"/>
<line x1="48.0" y1="35.00" x2="51.5" y2="35.00"/>
<line x1="415.0" y1="35.00" x2="418.5" y2="35.00"/>
<line x1="109.75" y1="0.5" x2="109.75" y2="4.0"/>
<line x1="171.50" y1="0.5" x2="171.50" y2="4.0"/>
<line x1="233.25" y1="0.5" x2="233.25" y2="4.0"/>
<line x1="295.00" y1="0.5" x2="295.00" y2="4.0"/>
<line x1="356.75" y1="0.5" x2="356.75" y2="4.0"/>
<line x1="48.0" y1="199.40" x2="51.5" y2="199.40"/>
<line x1="415.0" y1="199.40" x2="418.5" y2="199.40"/>
<line x1="48.0" y1="157.20" x2="51.5" y2="157.20"/>
<line x1="415.0" y1="157.20" x2="418.5" y2="157.20"/>
<line x1="109.75" y1="123.5" x2="109.75" y2="127.0"/>
<line x1="171.50" y1="123.5" x2="171.50" y2="127.0"/>
<line x1="233.25" y1="123.5" x2="233.25" y2="127.0"/>
<line x1="295.00" y1="123.5" x2="295.00" y2="127.0"/>
<line x1="356.75" y1="123.5" x2="356.75" y2="127.0"/>
</g>
<line x1="76.6" y1="52.9" x2="76.6" y2="66.0" stroke="#4b6d22" stroke-width="1.8" stroke-dasharray="1.8 3.2"/>
<line x1="112.6" y1="50.0" x2="112.6" y2="93.0" stroke="#b82838" stroke-width="1.8" stroke-dasharray="1.8 3.2"/>
<line x1="148.1" y1="53.7" x2="148.1" y2="111.0" stroke="#4b6d22" stroke-width="1.8" stroke-dasharray="1.8 3.2"/>
<line x1="177.7" y1="47.9" x2="171.4" y2="67.9" stroke="#578a2c" stroke-width="0.9"/>
<line x1="251.9" y1="47.9" x2="244.3" y2="67.9" stroke="#cc2a30" stroke-width="0.9"/>
<line x1="361.0" y1="52.5" x2="361.0" y2="86.0" stroke="#4b6d22" stroke-width="1.8" stroke-dasharray="1.8 3.2"/>
<line x1="393.6" y1="48.6" x2="387.0" y2="68.6" stroke="#cc2a30" stroke-width="0.9"/>
<text transform="translate(82.20,42.00) rotate(-90)" fill="#578a2c" font-size="13.8" textLength="34.5" lengthAdjust="spacingAndGlyphs">(001)</text>
<text transform="translate(116.60,42.30) rotate(-90)" fill="#cc2a30" font-size="13.8" textLength="34.5" lengthAdjust="spacingAndGlyphs">(003)</text>
<text transform="translate(152.60,42.30) rotate(-90)" fill="#578a2c" font-size="13.8" textLength="34.5" lengthAdjust="spacingAndGlyphs">(100)</text>
<text transform="translate(181.60,42.30) rotate(-90)" fill="#578a2c" font-size="13.8" textLength="34.5" lengthAdjust="spacingAndGlyphs">(002)</text>
<text transform="translate(257.00,42.30) rotate(-90)" fill="#cc2a30" font-size="13.8" textLength="34.5" lengthAdjust="spacingAndGlyphs">(006)</text>
<text transform="translate(366.20,42.10) rotate(-90)" fill="#578a2c" font-size="13.8" textLength="34.5" lengthAdjust="spacingAndGlyphs">(224)</text>
<text transform="translate(397.60,42.80) rotate(-90)" fill="#cc2a30" font-size="13.8" textLength="34.5" lengthAdjust="spacingAndGlyphs">(009)</text>
<line x1="76.6" y1="125.5" x2="76.6" y2="188.0" stroke="#4b6d22" stroke-width="1.8" stroke-dasharray="1.8 3.2"/>
<line x1="94.0" y1="173.5" x2="94.0" y2="192.0" stroke="#5eaaa8" stroke-width="1.8" stroke-dasharray="1.8 3.2"/>
<line x1="148.3" y1="126.0" x2="148.3" y2="206.0" stroke="#4b6d22" stroke-width="1.8" stroke-dasharray="1.8 3.2"/>
<line x1="168.6" y1="126.0" x2="168.6" y2="149.0" stroke="#4b6d22" stroke-width="1.8" stroke-dasharray="1.8 3.2"/>
<line x1="263.0" y1="183.0" x2="263.0" y2="217.0" stroke="#5eaaa8" stroke-width="1.8" stroke-dasharray="1.8 3.2"/>
<line x1="320.6" y1="183.0" x2="320.6" y2="226.0" stroke="#5eaaa8" stroke-width="1.8" stroke-dasharray="1.8 3.2"/>
<line x1="361.7" y1="126.5" x2="361.7" y2="208.0" stroke="#4b6d22" stroke-width="1.8" stroke-dasharray="1.8 3.2"/>
<line x1="384.5" y1="124.5" x2="384.5" y2="192.0" stroke="#b82838" stroke-width="1.8" stroke-dasharray="1.8 3.2"/>
<text transform="translate(97.60,165.30) rotate(-90)" fill="#64b6b4" font-size="13.8" textLength="34.5" lengthAdjust="spacingAndGlyphs">(006)</text>
<text transform="translate(265.30,177.80) rotate(-90)" fill="#64b6b4" font-size="13.8" textLength="47.0" lengthAdjust="spacingAndGlyphs">(00.15)</text>
<text transform="translate(324.60,177.80) rotate(-90)" fill="#64b6b4" font-size="13.8" textLength="47.0" lengthAdjust="spacingAndGlyphs">(00.18)</text>
<text x="55.3" y="17.4" font-size="17" font-weight="bold">a</text>
<text x="55.0" y="143.5" font-size="17" font-weight="bold">b</text>
<g fill="#111">
<text x="43.4" y="124.50" text-anchor="end" font-size="17">0</text>
<text x="43.4" y="82.70" text-anchor="end" font-size="17">25</text>
<text x="43.4" y="40.90" text-anchor="end" font-size="17">50</text>
<text x="43.4" y="244.20" text-anchor="end" font-size="17">0</text>
<text x="43.4" y="205.30" text-anchor="end" font-size="17">25</text>
<text x="43.4" y="163.10" text-anchor="end" font-size="17">50</text>
<text x="52.90" y="257.6" text-anchor="middle" font-size="17">10</text>
<text x="110.25" y="257.6" text-anchor="middle" font-size="17">20</text>
<text x="172.00" y="257.6" text-anchor="middle" font-size="17">30</text>
<text x="233.75" y="257.6" text-anchor="middle" font-size="17">40</text>
<text x="295.50" y="257.6" text-anchor="middle" font-size="17">50</text>
<text x="357.25" y="257.6" text-anchor="middle" font-size="17">60</text>
<text x="419.00" y="257.6" text-anchor="middle" font-size="17">70</text>
<text x="183.6" y="277.0" font-size="17">2</text>
<text x="195.0" y="277.0" font-size="17.2" font-family="Liberation Serif, serif" textLength="9.6" lengthAdjust="spacingAndGlyphs">&#952;</text>
<text x="207.8" y="277.0" font-size="17" textLength="74" lengthAdjust="spacingAndGlyphs">(degrees)</text>
<text transform="translate(12.6,120) rotate(-90)" text-anchor="middle" font-size="15.4" textLength="145" lengthAdjust="spacingAndGlyphs">Counts (arb. units)</text>
</g>
<rect x="422.3" y="53.3" width="76.2" height="29.2" fill="#4d8320" stroke="#2f5a12" stroke-width="1.1"/>
<rect x="422.3" y="82.5" width="76.2" height="36.5" fill="#cf373d" stroke="#7e2226" stroke-width="1.1"/>
<rect x="422.3" y="148.0" width="76.2" height="28.3" fill="#64bec3" stroke="#3c8488" stroke-width="1.1"/>
<rect x="422.3" y="176.3" width="76.2" height="28.9" fill="#4d8320" stroke="#2f5a12" stroke-width="1.1"/>
<rect x="422.3" y="205.2" width="76.2" height="36.3" fill="#cf373d" stroke="#7e2226" stroke-width="1.1"/>
<text x="460.4" y="72.3" text-anchor="middle" fill="#f6f8ee" font-size="14.6"><tspan>Cr</tspan><tspan font-size="8.9" dy="3.5">2</tspan><tspan dy="-3.5">Te</tspan><tspan font-size="8.9" dy="3.5">3</tspan></text>
<text x="460.4" y="105.9" text-anchor="middle" fill="#f6f8ee" font-size="14.6"><tspan>Al</tspan><tspan font-size="8.9" dy="3.5">2</tspan><tspan dy="-3.5">O</tspan><tspan font-size="8.9" dy="3.5">3</tspan></text>
<text x="460.4" y="166.3" text-anchor="middle" fill="#f6f8ee" font-size="14.6"><tspan>Cr:Sb</tspan><tspan font-size="8.9" dy="3.5">2</tspan><tspan dy="-3.5">Te</tspan><tspan font-size="8.9" dy="3.5">3</tspan></text>
<text x="460.4" y="195.3" text-anchor="middle" fill="#f6f8ee" font-size="14.6"><tspan>Cr</tspan><tspan font-size="8.9" dy="3.5">2</tspan><tspan dy="-3.5">Te</tspan><tspan font-size="8.9" dy="3.5">3</tspan></text>
<text x="460.4" y="228.6" text-anchor="middle" fill="#f6f8ee" font-size="14.6"><tspan>Al</tspan><tspan font-size="8.9" dy="3.5">2</tspan><tspan dy="-3.5">O</tspan><tspan font-size="8.9" dy="3.5">3</tspan></text>
<defs><filter id="bl7" x="-10%" y="-10%" width="120%" height="120%"><feGaussianBlur stdDeviation="7"/></filter>
<filter id="bl3" x="-10%" y="-10%" width="120%" height="120%"><feGaussianBlur stdDeviation="2.6"/></filter>
<filter id="bl4" x="-50%" y="-50%" width="200%" height="200%"><feGaussianBlur stdDeviation="4"/></filter>
<filter id="bl2" x="-50%" y="-50%" width="200%" height="200%"><feGaussianBlur stdDeviation="2"/></filter>
<filter id="bl1" x="-50%" y="-50%" width="200%" height="200%"><feGaussianBlur stdDeviation="0.7"/></filter><filter id="fa1" x="0" y="0" width="1" height="1" color-interpolation-filters="sRGB">
<feTurbulence type="fractalNoise" baseFrequency="0.1" numOctaves="2" seed="7" result="n"/>
<feColorMatrix in="n" type="matrix" values="1 0 0 0 0 1 0 0 0 0 1 0 0 0 0 0 0 0 0 1" result="ng"/>
<feComposite in="SourceGraphic" in2="ng" operator="arithmetic" k1="0" k2="1" k3="0.50" k4="-0.250" result="h"/>
<feComponentTransfer in="h">
<feFuncR type="table" tableValues="0.039 0.074 0.108 0.142 0.176 0.230 0.284 0.338 0.392 0.441 0.490 0.539 0.588 0.616 0.643 0.671 0.698 0.718 0.737 0.757 0.776 0.788 0.800 0.812 0.824 0.839 0.855 0.871 0.886 0.894 0.901 0.908 0.918 0.927 0.937 0.947 0.957 0.965 0.973 0.978 0.984"/>
<feFuncG type="table" tableValues="0.020 0.030 0.041 0.052 0.063 0.076 0.090 0.104 0.118 0.132 0.147 0.162 0.176 0.189 0.202 0.215 0.227 0.257 0.286 0.316 0.345 0.372 0.398 0.425 0.451 0.507 0.563 0.619 0.675 0.706 0.738 0.770 0.803 0.837 0.871 0.904 0.937 0.953 0.969 0.976 0.984"/>
<feFuncB type="table" tableValues="0.031 0.058 0.084 0.111 0.137 0.147 0.157 0.167 0.176 0.179 0.182 0.185 0.188 0.182 0.176 0.171 0.165 0.163 0.161 0.159 0.157 0.155 0.153 0.151 0.149 0.155 0.161 0.167 0.173 0.204 0.236 0.268 0.353 0.451 0.549 0.686 0.824 0.888 0.953 0.969 0.984"/>
</feComponentTransfer>
</filter><filter id="fa2" x="0" y="0" width="1" height="1" color-interpolation-filters="sRGB">
<feTurbulence type="fractalNoise" baseFrequency="0.09" numOctaves="2" seed="19" result="n"/>
<feColorMatrix in="n" type="matrix" values="1 0 0 0 0 1 0 0 0 0 1 0 0 0 0 0 0 0 0 1" result="ng"/>
<feComposite in="SourceGraphic" in2="ng" operator="arithmetic" k1="0" k2="1" k3="0.50" k4="-0.250" result="h"/>
<feComponentTransfer in="h">
<feFuncR type="table" tableValues="0.039 0.074 0.108 0.142 0.176 0.230 0.284 0.338 0.392 0.441 0.490 0.539 0.588 0.616 0.643 0.671 0.698 0.718 0.737 0.757 0.776 0.788 0.800 0.812 0.824 0.839 0.855 0.871 0.886 0.894 0.901 0.908 0.918 0.927 0.937 0.947 0.957 0.965 0.973 0.978 0.984"/>
<feFuncG type="table" tableValues="0.020 0.030 0.041 0.052 0.063 0.076 0.090 0.104 0.118 0.132 0.147 0.162 0.176 0.189 0.202 0.215 0.227 0.257 0.286 0.316 0.345 0.372 0.398 0.425 0.451 0.507 0.563 0.619 0.675 0.706 0.738 0.770 0.803 0.837 0.871 0.904 0.937 0.953 0.969 0.976 0.984"/>
<feFuncB type="table" tableValues="0.031 0.058 0.084 0.111 0.137 0.147 0.157 0.167 0.176 0.179 0.182 0.185 0.188 0.182 0.176 0.171 0.165 0.163 0.161 0.159 0.157 0.155 0.153 0.151 0.149 0.155 0.161 0.167 0.173 0.204 0.236 0.268 0.353 0.451 0.549 0.686 0.824 0.888 0.953 0.969 0.984"/>
</feComponentTransfer>
</filter>
<clipPath id="c1"><rect x="508.4" y="0.0" width="120.2" height="119.6"/></clipPath>
<clipPath id="c2"><rect x="508.4" y="122.5" width="120.2" height="120.2"/></clipPath>
</defs>
<g clip-path="url(#c1)"><g filter="url(#fa1)"><g filter="url(#bl3)">
<rect x="502.0" y="-6.0" width="18.5" height="18.5" fill="rgb(170,170,170)"/>
<rect x="520.0" y="-6.0" width="10.5" height="18.5" fill="rgb(194,194,194)"/>
<rect x="530.0" y="-6.0" width="10.5" height="18.5" fill="rgb(219,219,219)"/>
<rect x="540.0" y="-6.0" width="10.5" height="18.5" fill="rgb(86,86,86)"/>
<rect x="550.0" y="-6.0" width="10.5" height="18.5" fill="rgb(79,79,79)"/>
<rect x="560.0" y="-6.0" width="10.5" height="18.5" fill="rgb(72,72,72)"/>
<rect x="570.0" y="-6.0" width="10.5" height="18.5" fill="rgb(247,247,247)"/>
<rect x="580.0" y="-6.0" width="10.5" height="18.5" fill="rgb(112,112,112)"/>
<rect x="590.0" y="-6.0" width="10.5" height="18.5" fill="rgb(96,96,96)"/>
<rect x="600.0" y="-6.0" width="10.5" height="18.5" fill="rgb(112,112,112)"/>
<rect x="610.0" y="-6.0" width="10.5" height="18.5" fill="rgb(129,129,129)"/>
<rect x="620.0" y="-6.0" width="18.5" height="18.5" fill="rgb(96,96,96)"/>
<rect x="502.0" y="12.0" width="18.5" height="10.5" fill="rgb(178,178,178)"/>
<rect x="520.0" y="12.0" width="10.5" height="10.5" fill="rgb(247,247,247)"/>
<rect x="530.0" y="12.0" width="10.5" height="10.5" fill="rgb(207,207,207)"/>
<rect x="540.0" y="12.0" width="10.5" height="10.5" fill="rgb(86,86,86)"/>
<rect x="550.0" y="12.0" width="10.5" height="10.5" fill="rgb(96,96,96)"/>
<rect x="560.0" y="12.0" width="10.5" height="10.5" fill="rgb(112,112,112)"/>
<rect x="570.0" y="12.0" width="10.5" height="10.5" fill="rgb(166,166,166)"/>
<rect x="580.0" y="12.0" width="10.5" height="10.5" fill="rgb(139,139,139)"/>
<rect x="590.0" y="12.0" width="10.5" height="10.5" fill="rgb(112,112,112)"/>
<rect x="600.0" y="12.0" width="10.5" height="10.5" fill="rgb(139,139,139)"/>
<rect x="610.0" y="12.0" width="10.5" height="10.5" fill="rgb(102,102,102)"/>
<rect x="620.0" y="12.0" width="18.5" height="10.5" fill="rgb(96,96,96)"/>
<rect x="502.0" y="22.0" width="18.5" height="10.5" fill="rgb(162,162,162)"/>
<rect x="520.0" y="22.0" width="10.5" height="10.5" fill="rgb(247,247,247)"/>
<rect x="530.0" y="22.0" width="10.5" height="10.5" fill="rgb(186,186,186)"/>
<rect x="540.0" y="22.0" width="10.5" height="10.5" fill="rgb(96,96,96)"/>
<rect x="550.0" y="22.0" width="10.5" height="10.5" fill="rgb(129,129,129)"/>
<rect x="560.0" y="22.0" width="10.5" height="10.5" fill="rgb(139,139,139)"/>
<rect x="570.0" y="22.0" width="10.5" height="10.5" fill="rgb(178,178,178)"/>
<rect x="580.0" y="22.0" width="10.5" height="10.5" fill="rgb(145,145,145)"/>
<rect x="590.0" y="22.0" width="10.5" height="10.5" fill="rgb(166,166,166)"/>
<rect x="600.0" y="22.0" width="10.5" height="10.5" fill="rgb(129,129,129)"/>
<rect x="610.0" y="22.0" width="10.5" height="10.5" fill="rgb(96,96,96)"/>
<rect x="620.0" y="22.0" width="18.5" height="10.5" fill="rgb(96,96,96)"/>
<rect x="502.0" y="32.0" width="18.5" height="10.5" fill="rgb(194,194,194)"/>
<rect x="520.0" y="32.0" width="10.5" height="10.5" fill="rgb(178,178,178)"/>
<rect x="530.0" y="32.0" width="10.5" height="10.5" fill="rgb(145,145,145)"/>
<rect x="540.0" y="32.0" width="10.5" height="10.5" fill="rgb(154,154,154)"/>
<rect x="550.0" y="32.0" width="10.5" height="10.5" fill="rgb(154,154,154)"/>
<rect x="560.0" y="32.0" width="10.5" height="10.5" fill="rgb(139,139,139)"/>
<rect x="570.0" y="32.0" width="10.5" height="10.5" fill="rgb(119,119,119)"/>
<rect x="580.0" y="32.0" width="10.5" height="10.5" fill="rgb(166,166,166)"/>
<rect x="590.0" y="32.0" width="10.5" height="10.5" fill="rgb(194,194,194)"/>
<rect x="600.0" y="32.0" width="10.5" height="10.5" fill="rgb(154,154,154)"/>
<rect x="610.0" y="32.0" width="10.5" height="10.5" fill="rgb(112,112,112)"/>
<rect x="620.0" y="32.0" width="18.5" height="10.5" fill="rgb(102,102,102)"/>
<rect x="502.0" y="42.0" width="18.5" height="10.5" fill="rgb(194,194,194)"/>
<rect x="520.0" y="42.0" width="10.5" height="10.5" fill="rgb(145,145,145)"/>
<rect x="530.0" y="42.0" width="10.5" height="10.5" fill="rgb(112,112,112)"/>
<rect x="540.0" y="42.0" width="10.5" height="10.5" fill="rgb(139,139,139)"/>
<rect x="550.0" y="42.0" width="10.5" height="10.5" fill="rgb(166,166,166)"/>
<rect x="560.0" y="42.0" width="10.5" height="10.5" fill="rgb(119,119,119)"/>
<rect x="570.0" y="42.0" width="10.5" height="10.5" fill="rgb(139,139,139)"/>
<rect x="580.0" y="42.0" width="10.5" height="10.5" fill="rgb(194,194,194)"/>
<rect x="590.0" y="42.0" width="10.5" height="10.5" fill="rgb(178,178,178)"/>
<rect x="600.0" y="42.0" width="10.5" height="10.5" fill="rgb(145,145,145)"/>
<rect x="610.0" y="42.0" width="10.5" height="10.5" fill="rgb(102,102,102)"/>
<rect x="620.0" y="42.0" width="18.5" height="10.5" fill="rgb(119,119,119)"/>
<rect x="502.0" y="52.0" width="18.5" height="10.5" fill="rgb(145,145,145)"/>
<rect x="520.0" y="52.0" width="10.5" height="10.5" fill="rgb(129,129,129)"/>
<rect x="530.0" y="52.0" width="10.5" height="10.5" fill="rgb(145,145,145)"/>
<rect x="540.0" y="52.0" width="10.5" height="10.5" fill="rgb(166,166,166)"/>
<rect x="550.0" y="52.0" width="10.5" height="10.5" fill="rgb(145,145,145)"/>
<rect x="560.0" y="52.0" width="10.5" height="10.5" fill="rgb(139,139,139)"/>
<rect x="570.0" y="52.0" width="10.5" height="10.5" fill="rgb(96,96,96)"/>
<rect x="580.0" y="52.0" width="10.5" height="10.5" fill="rgb(166,166,166)"/>
<rect x="590.0" y="52.0" width="10.5" height="10.5" fill="rgb(145,145,145)"/>
<rect x="600.0" y="52.0" width="10.5" height="10.5" fill="rgb(129,129,129)"/>
<rect x="610.0" y="52.0" width="10.5" height="10.5" fill="rgb(102,102,102)"/>
<rect x="620.0" y="52.0" width="18.5" height="10.5" fill="rgb(112,112,112)"/>
<rect x="502.0" y="62.0" width="18.5" height="10.5" fill="rgb(170,170,170)"/>
<rect x="520.0" y="62.0" width="10.5" height="10.5" fill="rgb(145,145,145)"/>
<rect x="530.0" y="62.0" width="10.5" height="10.5" fill="rgb(170,170,170)"/>
<rect x="540.0" y="62.0" width="10.5" height="10.5" fill="rgb(194,194,194)"/>
<rect x="550.0" y="62.0" width="10.5" height="10.5" fill="rgb(178,178,178)"/>
<rect x="560.0" y="62.0" width="10.5" height="10.5" fill="rgb(145,145,145)"/>
<rect x="570.0" y="62.0" width="10.5" height="10.5" fill="rgb(166,166,166)"/>
<rect x="580.0" y="62.0" width="10.5" height="10.5" fill="rgb(139,139,139)"/>
<rect x="590.0" y="62.0" width="10.5" height="10.5" fill="rgb(96,96,96)"/>
<rect x="600.0" y="62.0" width="10.5" height="10.5" fill="rgb(112,112,112)"/>
<rect x="610.0" y="62.0" width="10.5" height="10.5" fill="rgb(139,139,139)"/>
<rect x="620.0" y="62.0" width="18.5" height="10.5" fill="rgb(145,145,145)"/>
<rect x="502.0" y="72.0" width="18.5" height="10.5" fill="rgb(106,106,106)"/>
<rect x="520.0" y="72.0" width="10.5" height="10.5" fill="rgb(112,112,112)"/>
<rect x="530.0" y="72.0" width="10.5" height="10.5" fill="rgb(166,166,166)"/>
<rect x="540.0" y="72.0" width="10.5" height="10.5" fill="rgb(235,235,235)"/>
<rect x="550.0" y="72.0" width="10.5" height="10.5" fill="rgb(219,219,219)"/>
<rect x="560.0" y="72.0" width="10.5" height="10.5" fill="rgb(139,139,139)"/>
<rect x="570.0" y="72.0" width="10.5" height="10.5" fill="rgb(186,186,186)"/>
<rect x="580.0" y="72.0" width="10.5" height="10.5" fill="rgb(96,96,96)"/>
<rect x="590.0" y="72.0" width="10.5" height="10.5" fill="rgb(86,86,86)"/>
<rect x="600.0" y="72.0" width="10.5" height="10.5" fill="rgb(129,129,129)"/>
<rect x="610.0" y="72.0" width="10.5" height="10.5" fill="rgb(154,154,154)"/>
<rect x="620.0" y="72.0" width="18.5" height="10.5" fill="rgb(106,106,106)"/>
<rect x="502.0" y="82.0" width="18.5" height="10.5" fill="rgb(119,119,119)"/>
<rect x="520.0" y="82.0" width="10.5" height="10.5" fill="rgb(154,154,154)"/>
<rect x="530.0" y="82.0" width="10.5" height="10.5" fill="rgb(178,178,178)"/>
<rect x="540.0" y="82.0" width="10.5" height="10.5" fill="rgb(194,194,194)"/>
<rect x="550.0" y="82.0" width="10.5" height="10.5" fill="rgb(166,166,166)"/>
<rect x="560.0" y="82.0" width="10.5" height="10.5" fill="rgb(119,119,119)"/>
<rect x="570.0" y="82.0" width="10.5" height="10.5" fill="rgb(139,139,139)"/>
<rect x="580.0" y="82.0" width="10.5" height="10.5" fill="rgb(96,96,96)"/>
<rect x="590.0" y="82.0" width="10.5" height="10.5" fill="rgb(102,102,102)"/>
<rect x="600.0" y="82.0" width="10.5" height="10.5" fill="rgb(154,154,154)"/>
<rect x="610.0" y="82.0" width="10.5" height="10.5" fill="rgb(139,139,139)"/>
<rect x="620.0" y="82.0" width="18.5" height="10.5" fill="rgb(119,119,119)"/>
<rect x="502.0" y="92.0" width="18.5" height="10.5" fill="rgb(139,139,139)"/>
<rect x="520.0" y="92.0" width="10.5" height="10.5" fill="rgb(170,170,170)"/>
<rect x="530.0" y="92.0" width="10.5" height="10.5" fill="rgb(235,235,235)"/>
<rect x="540.0" y="92.0" width="10.5" height="10.5" fill="rgb(194,194,194)"/>
<rect x="550.0" y="92.0" width="10.5" height="10.5" fill="rgb(145,145,145)"/>
<rect x="560.0" y="92.0" width="10.5" height="10.5" fill="rgb(112,112,112)"/>
<rect x="570.0" y="92.0" width="10.5" height="10.5" fill="rgb(112,112,112)"/>
<rect x="580.0" y="92.0" width="10.5" height="10.5" fill="rgb(139,139,139)"/>
<rect x="590.0" y="92.0" width="10.5" height="10.5" fill="rgb(129,129,129)"/>
<rect x="600.0" y="92.0" width="10.5" height="10.5" fill="rgb(129,129,129)"/>
<rect x="610.0" y="92.0" width="10.5" height="10.5" fill="rgb(129,129,129)"/>
<rect x="620.0" y="92.0" width="18.5" height="10.5" fill="rgb(129,129,129)"/>
<rect x="502.0" y="102.0" width="18.5" height="10.5" fill="rgb(129,129,129)"/>
<rect x="520.0" y="102.0" width="10.5" height="10.5" fill="rgb(166,166,166)"/>
<rect x="530.0" y="102.0" width="10.5" height="10.5" fill="rgb(207,207,207)"/>
<rect x="540.0" y="102.0" width="10.5" height="10.5" fill="rgb(178,178,178)"/>
<rect x="550.0" y="102.0" width="10.5" height="10.5" fill="rgb(129,129,129)"/>
<rect x="560.0" y="102.0" width="10.5" height="10.5" fill="rgb(129,129,129)"/>
<rect x="570.0" y="102.0" width="10.5" height="10.5" fill="rgb(129,129,129)"/>
<rect x="580.0" y="102.0" width="10.5" height="10.5" fill="rgb(129,129,129)"/>
<rect x="590.0" y="102.0" width="10.5" height="10.5" fill="rgb(129,129,129)"/>
<rect x="600.0" y="102.0" width="10.5" height="10.5" fill="rgb(129,129,129)"/>
<rect x="610.0" y="102.0" width="10.5" height="10.5" fill="rgb(129,129,129)"/>
<rect x="620.0" y="102.0" width="18.5" height="10.5" fill="rgb(129,129,129)"/>
<rect x="502.0" y="112.0" width="18.5" height="18.5" fill="rgb(145,145,145)"/>
<rect x="520.0" y="112.0" width="10.5" height="18.5" fill="rgb(194,194,194)"/>
<rect x="530.0" y="112.0" width="10.5" height="18.5" fill="rgb(178,178,178)"/>
<rect x="540.0" y="112.0" width="10.5" height="18.5" fill="rgb(145,145,145)"/>
<rect x="550.0" y="112.0" width="10.5" height="18.5" fill="rgb(129,129,129)"/>
<rect x="560.0" y="112.0" width="10.5" height="18.5" fill="rgb(129,129,129)"/>
<rect x="570.0" y="112.0" width="10.5" height="18.5" fill="rgb(129,129,129)"/>
<rect x="580.0" y="112.0" width="10.5" height="18.5" fill="rgb(129,129,129)"/>
<rect x="590.0" y="112.0" width="10.5" height="18.5" fill="rgb(129,129,129)"/>
<rect x="600.0" y="112.0" width="10.5" height="18.5" fill="rgb(129,129,129)"/>
<rect x="610.0" y="112.0" width="10.5" height="18.5" fill="rgb(129,129,129)"/>
<rect x="620.0" y="112.0" width="18.5" height="18.5" fill="rgb(129,129,129)"/>
</g>
<ellipse cx="524.0" cy="19.0" rx="3.5" ry="5.5" fill="rgb(237,237,237)" filter="url(#bl2)"/>
<ellipse cx="571.0" cy="3.0" rx="5.0" ry="4.0" fill="rgb(250,250,250)" filter="url(#bl2)"/>
<ellipse cx="546.0" cy="79.0" rx="6.0" ry="4.0" fill="rgb(242,242,242)" filter="url(#bl2)"/>
<ellipse cx="535.0" cy="98.0" rx="5.0" ry="5.0" fill="rgb(237,237,237)" filter="url(#bl2)"/>
<ellipse cx="558.0" cy="10.0" rx="1.8" ry="3.0" fill="rgb(38,38,38)" filter="url(#bl1)"/></g></g>
<g clip-path="url(#c2)"><g filter="url(#fa2)"><g filter="url(#bl3)">
<rect x="502.0" y="116.5" width="18.5" height="18.5" fill="rgb(97,97,97)"/>
<rect x="520.0" y="116.5" width="10.5" height="18.5" fill="rgb(105,105,105)"/>
<rect x="530.0" y="116.5" width="10.5" height="18.5" fill="rgb(196,196,196)"/>
<rect x="540.0" y="116.5" width="10.5" height="18.5" fill="rgb(196,196,196)"/>
<rect x="550.0" y="116.5" width="10.5" height="18.5" fill="rgb(167,167,167)"/>
<rect x="560.0" y="116.5" width="10.5" height="18.5" fill="rgb(105,105,105)"/>
<rect x="570.0" y="116.5" width="10.5" height="18.5" fill="rgb(97,97,97)"/>
<rect x="580.0" y="116.5" width="10.5" height="18.5" fill="rgb(138,138,138)"/>
<rect x="590.0" y="116.5" width="10.5" height="18.5" fill="rgb(130,130,130)"/>
<rect x="600.0" y="116.5" width="10.5" height="18.5" fill="rgb(147,147,147)"/>
<rect x="610.0" y="116.5" width="10.5" height="18.5" fill="rgb(130,130,130)"/>
<rect x="620.0" y="116.5" width="18.5" height="18.5" fill="rgb(97,97,97)"/>
<rect x="502.0" y="134.5" width="18.5" height="10.5" fill="rgb(97,97,97)"/>
<rect x="520.0" y="134.5" width="10.5" height="10.5" fill="rgb(130,130,130)"/>
<rect x="530.0" y="134.5" width="10.5" height="10.5" fill="rgb(147,147,147)"/>
<rect x="540.0" y="134.5" width="10.5" height="10.5" fill="rgb(85,85,85)"/>
<rect x="550.0" y="134.5" width="10.5" height="10.5" fill="rgb(130,130,130)"/>
<rect x="560.0" y="134.5" width="10.5" height="10.5" fill="rgb(147,147,147)"/>
<rect x="570.0" y="134.5" width="10.5" height="10.5" fill="rgb(162,162,162)"/>
<rect x="580.0" y="134.5" width="10.5" height="10.5" fill="rgb(130,130,130)"/>
<rect x="590.0" y="134.5" width="10.5" height="10.5" fill="rgb(176,176,176)"/>
<rect x="600.0" y="134.5" width="10.5" height="10.5" fill="rgb(186,186,186)"/>
<rect x="610.0" y="134.5" width="10.5" height="10.5" fill="rgb(157,157,157)"/>
<rect x="620.0" y="134.5" width="18.5" height="10.5" fill="rgb(89,89,89)"/>
<rect x="502.0" y="144.5" width="18.5" height="10.5" fill="rgb(121,121,121)"/>
<rect x="520.0" y="144.5" width="10.5" height="10.5" fill="rgb(105,105,105)"/>
<rect x="530.0" y="144.5" width="10.5" height="10.5" fill="rgb(130,130,130)"/>
<rect x="540.0" y="144.5" width="10.5" height="10.5" fill="rgb(48,48,48)"/>
<rect x="550.0" y="144.5" width="10.5" height="10.5" fill="rgb(117,117,117)"/>
<rect x="560.0" y="144.5" width="10.5" height="10.5" fill="rgb(162,162,162)"/>
<rect x="570.0" y="144.5" width="10.5" height="10.5" fill="rgb(210,210,210)"/>
<rect x="580.0" y="144.5" width="10.5" height="10.5" fill="rgb(117,117,117)"/>
<rect x="590.0" y="144.5" width="10.5" height="10.5" fill="rgb(138,138,138)"/>
<rect x="600.0" y="144.5" width="10.5" height="10.5" fill="rgb(147,147,147)"/>
<rect x="610.0" y="144.5" width="10.5" height="10.5" fill="rgb(105,105,105)"/>
<rect x="620.0" y="144.5" width="18.5" height="10.5" fill="rgb(85,85,85)"/>
<rect x="502.0" y="154.5" width="18.5" height="10.5" fill="rgb(97,97,97)"/>
<rect x="520.0" y="154.5" width="10.5" height="10.5" fill="rgb(117,117,117)"/>
<rect x="530.0" y="154.5" width="10.5" height="10.5" fill="rgb(77,77,77)"/>
<rect x="540.0" y="154.5" width="10.5" height="10.5" fill="rgb(48,48,48)"/>
<rect x="550.0" y="154.5" width="10.5" height="10.5" fill="rgb(147,147,147)"/>
<rect x="560.0" y="154.5" width="10.5" height="10.5" fill="rgb(176,176,176)"/>
<rect x="570.0" y="154.5" width="10.5" height="10.5" fill="rgb(176,176,176)"/>
<rect x="580.0" y="154.5" width="10.5" height="10.5" fill="rgb(105,105,105)"/>
<rect x="590.0" y="154.5" width="10.5" height="10.5" fill="rgb(121,121,121)"/>
<rect x="600.0" y="154.5" width="10.5" height="10.5" fill="rgb(85,85,85)"/>
<rect x="610.0" y="154.5" width="10.5" height="10.5" fill="rgb(97,97,97)"/>
<rect x="620.0" y="154.5" width="18.5" height="10.5" fill="rgb(121,121,121)"/>
<rect x="502.0" y="164.5" width="18.5" height="10.5" fill="rgb(117,117,117)"/>
<rect x="520.0" y="164.5" width="10.5" height="10.5" fill="rgb(147,147,147)"/>
<rect x="530.0" y="164.5" width="10.5" height="10.5" fill="rgb(97,97,97)"/>
<rect x="540.0" y="164.5" width="10.5" height="10.5" fill="rgb(117,117,117)"/>
<rect x="550.0" y="164.5" width="10.5" height="10.5" fill="rgb(186,186,186)"/>
<rect x="560.0" y="164.5" width="10.5" height="10.5" fill="rgb(97,97,97)"/>
<rect x="570.0" y="164.5" width="10.5" height="10.5" fill="rgb(89,89,89)"/>
<rect x="580.0" y="164.5" width="10.5" height="10.5" fill="rgb(77,77,77)"/>
<rect x="590.0" y="164.5" width="10.5" height="10.5" fill="rgb(85,85,85)"/>
<rect x="600.0" y="164.5" width="10.5" height="10.5" fill="rgb(117,117,117)"/>
<rect x="610.0" y="164.5" width="10.5" height="10.5" fill="rgb(147,147,147)"/>
<rect x="620.0" y="164.5" width="18.5" height="10.5" fill="rgb(196,196,196)"/>
<rect x="502.0" y="174.5" width="18.5" height="10.5" fill="rgb(105,105,105)"/>
<rect x="520.0" y="174.5" width="10.5" height="10.5" fill="rgb(130,130,130)"/>
<rect x="530.0" y="174.5" width="10.5" height="10.5" fill="rgb(138,138,138)"/>
<rect x="540.0" y="174.5" width="10.5" height="10.5" fill="rgb(162,162,162)"/>
<rect x="550.0" y="174.5" width="10.5" height="10.5" fill="rgb(147,147,147)"/>
<rect x="560.0" y="174.5" width="10.5" height="10.5" fill="rgb(89,89,89)"/>
<rect x="570.0" y="174.5" width="10.5" height="10.5" fill="rgb(97,97,97)"/>
<rect x="580.0" y="174.5" width="10.5" height="10.5" fill="rgb(105,105,105)"/>
<rect x="590.0" y="174.5" width="10.5" height="10.5" fill="rgb(121,121,121)"/>
<rect x="600.0" y="174.5" width="10.5" height="10.5" fill="rgb(97,97,97)"/>
<rect x="610.0" y="174.5" width="10.5" height="10.5" fill="rgb(186,186,186)"/>
<rect x="620.0" y="174.5" width="18.5" height="10.5" fill="rgb(225,225,225)"/>
<rect x="502.0" y="184.5" width="18.5" height="10.5" fill="rgb(130,130,130)"/>
<rect x="520.0" y="184.5" width="10.5" height="10.5" fill="rgb(147,147,147)"/>
<rect x="530.0" y="184.5" width="10.5" height="10.5" fill="rgb(130,130,130)"/>
<rect x="540.0" y="184.5" width="10.5" height="10.5" fill="rgb(138,138,138)"/>
<rect x="550.0" y="184.5" width="10.5" height="10.5" fill="rgb(147,147,147)"/>
<rect x="560.0" y="184.5" width="10.5" height="10.5" fill="rgb(89,89,89)"/>
<rect x="570.0" y="184.5" width="10.5" height="10.5" fill="rgb(147,147,147)"/>
<rect x="580.0" y="184.5" width="10.5" height="10.5" fill="rgb(147,147,147)"/>
<rect x="590.0" y="184.5" width="10.5" height="10.5" fill="rgb(138,138,138)"/>
<rect x="600.0" y="184.5" width="10.5" height="10.5" fill="rgb(147,147,147)"/>
<rect x="610.0" y="184.5" width="10.5" height="10.5" fill="rgb(117,117,117)"/>
<rect x="620.0" y="184.5" width="18.5" height="10.5" fill="rgb(89,89,89)"/>
<rect x="502.0" y="194.5" width="18.5" height="10.5" fill="rgb(105,105,105)"/>
<rect x="520.0" y="194.5" width="10.5" height="10.5" fill="rgb(130,130,130)"/>
<rect x="530.0" y="194.5" width="10.5" height="10.5" fill="rgb(105,105,105)"/>
<rect x="540.0" y="194.5" width="10.5" height="10.5" fill="rgb(121,121,121)"/>
<rect x="550.0" y="194.5" width="10.5" height="10.5" fill="rgb(121,121,121)"/>
<rect x="560.0" y="194.5" width="10.5" height="10.5" fill="rgb(97,97,97)"/>
<rect x="570.0" y="194.5" width="10.5" height="10.5" fill="rgb(162,162,162)"/>
<rect x="580.0" y="194.5" width="10.5" height="10.5" fill="rgb(162,162,162)"/>
<rect x="590.0" y="194.5" width="10.5" height="10.5" fill="rgb(105,105,105)"/>
<rect x="600.0" y="194.5" width="10.5" height="10.5" fill="rgb(138,138,138)"/>
<rect x="610.0" y="194.5" width="10.5" height="10.5" fill="rgb(89,89,89)"/>
<rect x="620.0" y="194.5" width="18.5" height="10.5" fill="rgb(117,117,117)"/>
<rect x="502.0" y="204.5" width="18.5" height="10.5" fill="rgb(89,89,89)"/>
<rect x="520.0" y="204.5" width="10.5" height="10.5" fill="rgb(196,196,196)"/>
<rect x="530.0" y="204.5" width="10.5" height="10.5" fill="rgb(196,196,196)"/>
<rect x="540.0" y="204.5" width="10.5" height="10.5" fill="rgb(105,105,105)"/>
<rect x="550.0" y="204.5" width="10.5" height="10.5" fill="rgb(89,89,89)"/>
<rect x="560.0" y="204.5" width="10.5" height="10.5" fill="rgb(117,117,117)"/>
<rect x="570.0" y="204.5" width="10.5" height="10.5" fill="rgb(147,147,147)"/>
<rect x="580.0" y="204.5" width="10.5" height="10.5" fill="rgb(138,138,138)"/>
<rect x="590.0" y="204.5" width="10.5" height="10.5" fill="rgb(89,89,89)"/>
<rect x="600.0" y="204.5" width="10.5" height="10.5" fill="rgb(97,97,97)"/>
<rect x="610.0" y="204.5" width="10.5" height="10.5" fill="rgb(105,105,105)"/>
<rect x="620.0" y="204.5" width="18.5" height="10.5" fill="rgb(117,117,117)"/>
<rect x="502.0" y="214.5" width="18.5" height="10.5" fill="rgb(97,97,97)"/>
<rect x="520.0" y="214.5" width="10.5" height="10.5" fill="rgb(206,206,206)"/>
<rect x="530.0" y="214.5" width="10.5" height="10.5" fill="rgb(196,196,196)"/>
<rect x="540.0" y="214.5" width="10.5" height="10.5" fill="rgb(121,121,121)"/>
<rect x="550.0" y="214.5" width="10.5" height="10.5" fill="rgb(105,105,105)"/>
<rect x="560.0" y="214.5" width="10.5" height="10.5" fill="rgb(117,117,117)"/>
<rect x="570.0" y="214.5" width="10.5" height="10.5" fill="rgb(117,117,117)"/>
<rect x="580.0" y="214.5" width="10.5" height="10.5" fill="rgb(105,105,105)"/>
<rect x="590.0" y="214.5" width="10.5" height="10.5" fill="rgb(121,121,121)"/>
<rect x="600.0" y="214.5" width="10.5" height="10.5" fill="rgb(138,138,138)"/>
<rect x="610.0" y="214.5" width="10.5" height="10.5" fill="rgb(121,121,121)"/>
<rect x="620.0" y="214.5" width="18.5" height="10.5" fill="rgb(138,138,138)"/>
<rect x="502.0" y="224.5" width="18.5" height="10.5" fill="rgb(117,117,117)"/>
<rect x="520.0" y="224.5" width="10.5" height="10.5" fill="rgb(176,176,176)"/>
<rect x="530.0" y="224.5" width="10.5" height="10.5" fill="rgb(167,167,167)"/>
<rect x="540.0" y="224.5" width="10.5" height="10.5" fill="rgb(121,121,121)"/>
<rect x="550.0" y="224.5" width="10.5" height="10.5" fill="rgb(97,97,97)"/>
<rect x="560.0" y="224.5" width="10.5" height="10.5" fill="rgb(117,117,117)"/>
<rect x="570.0" y="224.5" width="10.5" height="10.5" fill="rgb(117,117,117)"/>
<rect x="580.0" y="224.5" width="10.5" height="10.5" fill="rgb(117,117,117)"/>
<rect x="590.0" y="224.5" width="10.5" height="10.5" fill="rgb(117,117,117)"/>
<rect x="600.0" y="224.5" width="10.5" height="10.5" fill="rgb(117,117,117)"/>
<rect x="610.0" y="224.5" width="10.5" height="10.5" fill="rgb(117,117,117)"/>
<rect x="620.0" y="224.5" width="18.5" height="10.5" fill="rgb(117,117,117)"/>
<rect x="502.0" y="234.5" width="18.5" height="18.5" fill="rgb(121,121,121)"/>
<rect x="520.0" y="234.5" width="10.5" height="18.5" fill="rgb(147,147,147)"/>
<rect x="530.0" y="234.5" width="10.5" height="18.5" fill="rgb(138,138,138)"/>
<rect x="540.0" y="234.5" width="10.5" height="18.5" fill="rgb(130,130,130)"/>
<rect x="550.0" y="234.5" width="10.5" height="18.5" fill="rgb(105,105,105)"/>
<rect x="560.0" y="234.5" width="10.5" height="18.5" fill="rgb(117,117,117)"/>
<rect x="570.0" y="234.5" width="10.5" height="18.5" fill="rgb(117,117,117)"/>
<rect x="580.0" y="234.5" width="10.5" height="18.5" fill="rgb(117,117,117)"/>
<rect x="590.0" y="234.5" width="10.5" height="18.5" fill="rgb(117,117,117)"/>
<rect x="600.0" y="234.5" width="10.5" height="18.5" fill="rgb(117,117,117)"/>
<rect x="610.0" y="234.5" width="10.5" height="18.5" fill="rgb(117,117,117)"/>
<rect x="620.0" y="234.5" width="18.5" height="18.5" fill="rgb(117,117,117)"/>
</g>
<polygon points="562.5,132.8 572.0,132.0 577.0,140.0 575.0,150.4 567.6,153.3 563.2,143.0" fill="rgb(173,173,173)" filter="url(#bl2)"/>
<ellipse cx="567.6" cy="146.0" rx="3.0" ry="4.0" fill="rgb(199,199,199)" filter="url(#bl2)"/>
<polygon points="575.2,180.7 586.8,182.5 592.1,191.4 585.0,213.8 569.8,195.0" fill="rgb(189,189,189)" filter="url(#bl1)"/>
<ellipse cx="582.5" cy="202.0" rx="4.5" ry="7.0" fill="rgb(247,247,247)" filter="url(#bl2)"/>
<polygon points="591.3,185.2 609.1,181.6 610.9,189.6 607.3,201.3 595.7,191.4" fill="rgb(184,184,184)" filter="url(#bl1)"/>
<ellipse cx="604.0" cy="190.0" rx="4.0" ry="4.0" fill="rgb(214,214,214)" filter="url(#bl2)"/>
<polygon points="531.0,204.2 541.9,222.7 535.2,237.0 520.0,233.6 521.7,213.5" fill="rgb(184,184,184)" filter="url(#bl1)"/>
<ellipse cx="530.0" cy="223.5" rx="4.0" ry="6.0" fill="rgb(204,204,204)" filter="url(#bl2)"/>
<ellipse cx="565.4" cy="213.8" rx="1.5" ry="1.5" fill="rgb(230,230,230)" filter="url(#bl1)"/></g></g>
<rect x="509.4" y="1.0" width="118.2" height="117.6" fill="none" stroke="#000" stroke-width="2"/>
<rect x="509.4" y="123.6" width="118.2" height="118.0" fill="none" stroke="#000" stroke-width="2"/>
<rect x="558.4" y="97.7" width="66" height="18.4" fill="#fff"/>
<rect x="562" y="112.6" width="59.5" height="1.9" fill="#000"/>
<text x="591.9" y="108.7" text-anchor="middle" font-size="11.2" fill="#111">500 nm</text>
<rect x="559.1" y="220.3" width="65.5" height="18.6" fill="#fff"/>
<rect x="562" y="234.6" width="59.3" height="1.9" fill="#000"/>
<text x="591.9" y="230.9" text-anchor="middle" font-size="11.2" fill="#111">500 nm</text>
<defs><linearGradient id="cbg" x1="0" y1="0" x2="0" y2="1"><stop offset="0.000" stop-color="rgb(251,251,251)"/><stop offset="0.050" stop-color="rgb(248,247,243)"/><stop offset="0.100" stop-color="rgb(244,239,210)"/><stop offset="0.150" stop-color="rgb(239,222,140)"/><stop offset="0.200" stop-color="rgb(234,204,90)"/><stop offset="0.250" stop-color="rgb(229,188,60)"/><stop offset="0.300" stop-color="rgb(226,172,44)"/><stop offset="0.350" stop-color="rgb(218,143,41)"/><stop offset="0.400" stop-color="rgb(210,115,38)"/><stop offset="0.450" stop-color="rgb(204,101,39)"/><stop offset="0.500" stop-color="rgb(198,88,40)"/><stop offset="0.550" stop-color="rgb(185,71,41)"/><stop offset="0.600" stop-color="rgb(172,55,42)"/><stop offset="0.650" stop-color="rgb(153,48,55)"/><stop offset="0.700" stop-color="rgb(135,42,68)"/><stop offset="0.750" stop-color="rgb(112,36,64)"/><stop offset="0.800" stop-color="rgb(90,30,60)"/><stop offset="0.850" stop-color="rgb(67,23,47)"/><stop offset="0.900" stop-color="rgb(45,16,35)"/><stop offset="0.950" stop-color="rgb(27,10,21)"/><stop offset="1.000" stop-color="rgb(10,5,8)"/></linearGradient></defs>
<rect x="634.8" y="0.8" width="7.6" height="118.3" fill="url(#cbg)" stroke="#3a3a3a" stroke-width="1"/>
<rect x="634.8" y="123.4" width="7.6" height="118.3" fill="url(#cbg)" stroke="#3a3a3a" stroke-width="1"/>
<g font-size="10.4" fill="#111">
<text x="645.6" y="15.0">5</text>
<text x="645.6" y="62.6">nm</text>
<text x="645.6" y="118.6">0</text>
<text x="645.6" y="131.4">10</text>
<text x="645.6" y="185.5">nm</text>
<text x="645.6" y="241.4">0</text>
</g>
</svg>
</body></html>
